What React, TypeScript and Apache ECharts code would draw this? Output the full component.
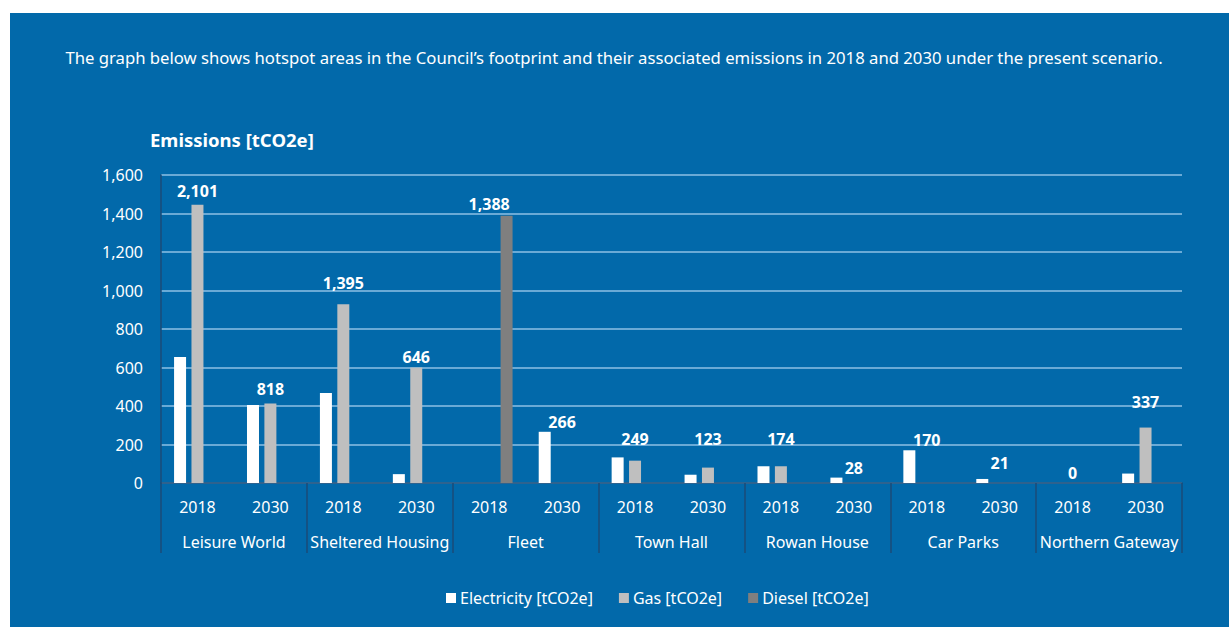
import React, { useEffect, useRef } from "react";
import * as echarts from "echarts";

const years = ["2018", "2030", "2018", "2030", "2018", "2030", "2018", "2030", "2018", "2030", "2018", "2030", "2018", "2030"];
const groups = ["Leisure World", "Sheltered Housing", "Fleet", "Town Hall", "Rowan House", "Car Parks", "Northern Gateway"];
const electricity = [655, 405, 467, 46, 0, 266, 133, 43, 87, 28, 170, 21, 0, 49];
const gas = [1446, 413, 928, 600, 0, 0, 116, 80, 87, 0, 0, 0, 0, 288];
const diesel = [0, 0, 0, 0, 1388, 0, 0, 0, 0, 0, 0, 0, 0, 0];
const totals = ["2,101", "818", "1,395", "646", "1,388", "266", "249", "123", "174", "28", "170", "21", "0", "337"];
// value (on the y scale) at which each total label sits
const totalLabelAt = [1517, 488, 1039, 655, 1449, 317, 229, 229, 229, 78, 223, 104, 53, 422];
const yTicks = { min: 0, max: 1600, interval: 200 };

const FONT = "'Noto Sans', sans-serif";
const BLUE = "#0269aa";
const DARK = "#1b4b77";
const GRID = "#8ec0e4";

export default function App() {
  const ref = useRef<HTMLDivElement>(null);
  useEffect(() => {
    if (!ref.current) return;
    const chart = echarts.init(ref.current, null, { renderer: "svg" });
    chart.setOption({
      animation: false,
      backgroundColor: "#ffffff",
      textStyle: { fontFamily: FONT },
      graphic: [
        { type: "rect", z: -10, shape: { x: 10, y: 13, width: 1219, height: 614 }, style: { fill: BLUE } },
        {
          type: "text", x: 614, y: 57,
          style: {
            text: "The graph below shows hotspot areas in the Council\u2019s footprint and their associated emissions in 2018 and 2030 under the present scenario.",
            fill: "#ffffff", font: `16.7px ${FONT}`, align: "center", verticalAlign: "middle",
          },
        },
        {
          type: "text", x: 150, y: 139,
          style: { text: "Emissions [tCO2e]", fill: "#ffffff", font: `bold 18.5px ${FONT}`, align: "left", verticalAlign: "middle" },
        },
      ],
      grid: { left: 161, right: 47, top: 175, bottom: 144 },
      legend: {
        left: 441, top: 585,
        itemWidth: 10, itemHeight: 10, itemGap: 26,
        icon: "rect", selectedMode: false,
        data: ["Electricity [tCO2e]", "Gas [tCO2e]", "Diesel [tCO2e]"],
        textStyle: { color: "#ffffff", fontSize: 16, fontFamily: FONT, padding: [0, 0, 0, -1] },
      },
      xAxis: [
        {
          type: "category", data: years, position: "bottom",
          axisLine: { show: true, lineStyle: { color: DARK, width: 1.5 } },
          axisTick: { show: false },
          axisLabel: { color: "#ffffff", fontSize: 16, fontFamily: FONT, margin: 16, interval: 0 },
        },
        {
          type: "category", data: groups, position: "bottom",
          axisLine: { show: false },
          axisTick: { show: true, length: 70, interval: 0, lineStyle: { color: DARK, width: 1.5 } },
          axisLabel: { color: "#ffffff", fontSize: 16, fontFamily: FONT, margin: 51, interval: 0 },
        },
      ],
      yAxis: {
        type: "value", min: yTicks.min, max: yTicks.max, interval: yTicks.interval,
        axisLine: { show: true, lineStyle: { color: DARK, width: 1.5 } },
        axisTick: { show: false },
        axisLabel: {
          color: "#ffffff", fontSize: 16, fontFamily: FONT, margin: 18,
          formatter: (v: number) => v.toLocaleString("en-US"),
        },
        splitLine: { show: true, lineStyle: { color: GRID, width: 1.5 } },
      },
      series: [
        { name: "Electricity [tCO2e]", type: "bar", data: electricity, barWidth: 12, barGap: "45%", itemStyle: { color: "#ffffff" } },
        { name: "Gas [tCO2e]", type: "bar", data: gas, barWidth: 12, barGap: "45%", itemStyle: { color: "#bfbfbf" } },
        { name: "Diesel [tCO2e]", type: "bar", data: diesel, barWidth: 12, barGap: "45%", itemStyle: { color: "#7f7f7f" } },
        {
          name: "Total", type: "scatter", symbolSize: 0, silent: true,
          itemStyle: { opacity: 1, color: "#ffffff" },
          data: totalLabelAt.map((v, i) => [i, v]),
          label: {
            show: true, position: "inside",
            formatter: (p: any) => totals[p.dataIndex],
            color: "#ffffff", fontSize: 16, fontWeight: "bold", fontFamily: FONT, opacity: 1,
          },
        },
      ],
    });
    return () => chart.dispose();
  }, []);
  return (
    <div style={{ position: "fixed", left: 0, top: 0, width: 1229, height: 627, background: "#fff" }}>
      <div ref={ref} style={{ width: 1229, height: 627 }} />
    </div>
  );
}
